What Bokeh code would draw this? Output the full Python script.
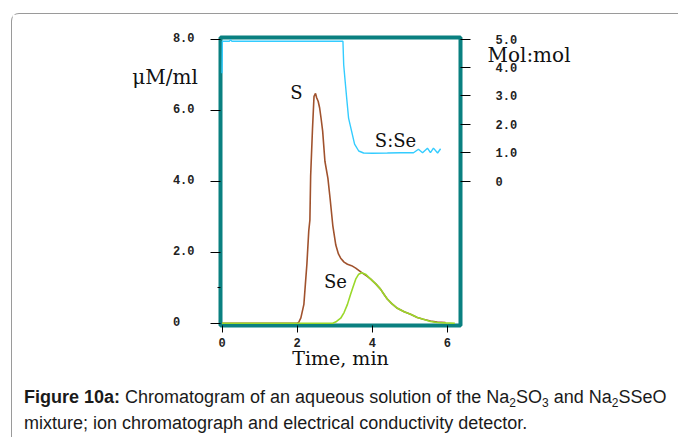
from bokeh.plotting import figure
from bokeh.models import Range1d, LinearAxis, FixedTicker, Label, Div
from bokeh.layouts import column
from bokeh.embed import file_html
from bokeh.resources import INLINE

# ---- data ----
time_s = [0.0, 2.0, 2.04, 2.10, 2.18, 2.22, 2.26, 2.31, 2.34, 2.36, 2.41, 2.45, 2.49,
          2.52, 2.56, 2.60, 2.64, 2.68, 2.74, 2.82, 2.88, 2.95, 3.03, 3.10, 3.16,
          3.25, 3.34, 3.45, 3.56, 3.65, 3.74, 3.85, 3.96, 4.10, 4.22, 4.32, 4.40,
          4.52, 4.67, 4.85, 5.02, 5.20, 5.36, 5.55, 5.73, 5.95]
s_conc = [0.0, 0.0, 0.02, 0.15, 0.53, 1.10, 1.66, 2.60, 2.90, 4.14, 5.49, 6.39, 6.47,
          6.35, 6.25, 6.06, 5.75, 5.41, 4.56, 4.08, 3.49, 2.75, 2.20, 1.95, 1.83,
          1.72, 1.66, 1.62, 1.55, 1.48, 1.41, 1.33, 1.24, 1.10, 0.96, 0.80, 0.68,
          0.55, 0.42, 0.32, 0.25, 0.16, 0.11, 0.06, 0.03, 0.02]

time_se = [0.0, 2.95, 3.05, 3.16, 3.25, 3.34, 3.42, 3.48, 3.56, 3.64, 3.72, 3.82,
           3.96, 4.10, 4.22, 4.32, 4.40, 4.52, 4.67, 4.85, 5.02, 5.20, 5.36, 5.55,
           5.73, 5.95, 6.20]
se_conc = [0.0, 0.0, 0.05, 0.14, 0.30, 0.53, 0.80, 0.99, 1.24, 1.38, 1.42, 1.38,
           1.24, 1.10, 0.96, 0.80, 0.68, 0.55, 0.42, 0.32, 0.25, 0.16, 0.11, 0.05,
           0.02, 0.01, 0.0]

time_ratio = [0.0, 0.01, 0.20, 0.23, 0.26, 3.22, 3.24, 3.28, 3.32, 3.37, 3.45, 3.53,
              3.64, 3.77, 4.00, 4.40, 4.75, 5.10, 5.23, 5.34, 5.47, 5.55, 5.63,
              5.74, 5.82]
ratio = [3.80, 4.93, 4.93, 4.98, 4.93, 4.93, 4.10, 3.50, 2.92, 2.22, 1.76, 1.30,
         1.06, 0.99, 0.98, 0.99, 1.00, 1.00, 1.12, 1.00, 1.16, 1.00, 1.16, 0.99, 1.14]

x_ticks = [0, 2, 4, 6]
x_tick_labels = ["0", "2", "4", "6"]
left_ticks = [0, 2, 4, 6, 8]
left_tick_labels = ["0\u00a0\u00a0", "2.0", "4.0", "6.0", "8.0"]
right_ticks = [0, 1, 2, 3, 4, 5]
right_tick_labels = ["0", "1.0", "2.0", "3.0", "4.0", "5.0"]

# ---- geometry (page pixels) ----
OX, OY = 12, 14                 # where the boxed content starts
FL, FR, FT, FB = 220, 460, 37, 325
FIG_W, FIG_H = 666, 365
CAP_TOP = OY + FIG_H
X0, X1 = -0.04, 6.35
Y0, Y1 = -0.065, 8.045
R0, R1 = -5.09, 5.06

TEAL = "#0a8080"
BROWN = "#a0522d"
GREEN = "#9ad82a"
CYAN = "#33ccff"


def sx(page_x):
    return page_x - FL


def sy(page_y):
    return FB - page_y


p = figure(width=FIG_W, height=FIG_H, x_range=Range1d(X0, X1), y_range=Range1d(Y0, Y1),
           output_backend="svg", toolbar_location=None,
           min_border_left=FL - OX, min_border_right=FIG_W - (FR - OX),
           min_border_top=FT - OY, min_border_bottom=FIG_H - (FB - OY))
p.extra_y_ranges = {"ratio": Range1d(R0, R1)}
p.grid.visible = False
p.outline_line_color = TEAL
p.outline_line_width = 4
p.background_fill_color = "white"
p.border_fill_color = "white"

TICK_FONT = "Liberation Mono"
SERIF = "DejaVu Serif"

xa = p.xaxis[0]
xa.ticker = FixedTicker(ticks=x_ticks)
xa.major_label_overrides = {t: s for t, s in zip(x_ticks, x_tick_labels)}
xa.axis_label = "Time, min"
xa.axis_label_text_font = SERIF
xa.axis_label_text_font_style = "normal"
xa.axis_label_text_font_size = "19px"
xa.axis_label_text_color = "#111111"
xa.axis_label_standoff = -3

ya = p.yaxis[0]
ya.ticker = FixedTicker(ticks=left_ticks, minor_ticks=[1])
ya.major_label_overrides = {t: s for t, s in zip(left_ticks, left_tick_labels)}
ra = LinearAxis(y_range_name="ratio")
ra.ticker = FixedTicker(ticks=right_ticks)
ra.major_label_overrides = {t: s for t, s in zip(right_ticks, right_tick_labels)}
p.add_layout(ra, "right")

for ax, out, standoff in ((xa, 7, 5), (ya, 10, 16), (ra, 10, 25)):
    ax.axis_line_color = None
    ax.major_tick_line_color = "black"
    ax.major_tick_in = 0
    ax.major_tick_out = out
    ax.minor_tick_line_color = "black"
    ax.minor_tick_in = 0
    ax.minor_tick_out = 3
    ax.major_label_text_font = TICK_FONT
    ax.major_label_text_font_style = "bold"
    ax.major_label_text_font_size = "12px"
    ax.major_label_text_color = "#222222"
    ax.major_label_standoff = standoff

p.line(time_ratio, ratio, y_range_name="ratio", line_color=CYAN, line_width=1.4)
p.line(time_s, s_conc, line_color=BROWN, line_width=1.6)
p.line(time_se, se_conc, line_color=GREEN, line_width=1.6)


def lab(text, px, py, size):
    p.add_layout(Label(x=sx(px), y=sy(py), x_units="screen", y_units="screen",
                       text=text, text_font=SERIF, text_font_size=size,
                       text_align="center", text_baseline="middle",
                       text_color="#111111"))


lab("S", 296, 92, "18px")
lab("S:Se", 395, 140, "18px")
lab("Se", 335, 281, "18px")


def abs_text(text, px, py, size):
    # unit labels that sit beside the frame, placed from the caption block
    return ('<span style="position:absolute;white-space:nowrap;'
            'font-family:\'DejaVu Serif\',serif;color:#111;'
            'transform:translate(-50%,-50%);line-height:1;'
            f'left:{px - OX}px;top:{py - CAP_TOP}px;font-size:{size}">{text}</span>')


SUB = '<sub style="font-size:12px;line-height:0;vertical-align:-4px">'
caption_html = (
    '<div style="position:relative;font-family:\'Liberation Sans\',Arial,sans-serif;'
    'font-size:18px;line-height:26px;color:#1a1a1a;white-space:nowrap;'
    'padding:0 0 0 7px;margin:0">'
    + abs_text("\u03bcM/ml", 160, 72, "20px")
    + abs_text("Mol:mol", 524, 50, "20px")
    + '<b>Figure 10a:</b> Chromatogram of an aqueous solution of the Na' + SUB + '2</sub>SO'
    + SUB + '3</sub> and Na' + SUB + '2</sub>SSeO<br>'
    'mixture; ion chromatograph and electrical conductivity detector.</div>'
)
cap = Div(text=caption_html, width=FIG_W, height=54)

page = column(p, cap, styles={
    "margin-left": "11px", "margin-top": "13px",
    "border-left": "1px solid #9a9a9a", "border-top": "1px solid #9a9a9a",
    "border-top-left-radius": "8px",
})

open("out.html", "w").write(file_html(page, INLINE))
